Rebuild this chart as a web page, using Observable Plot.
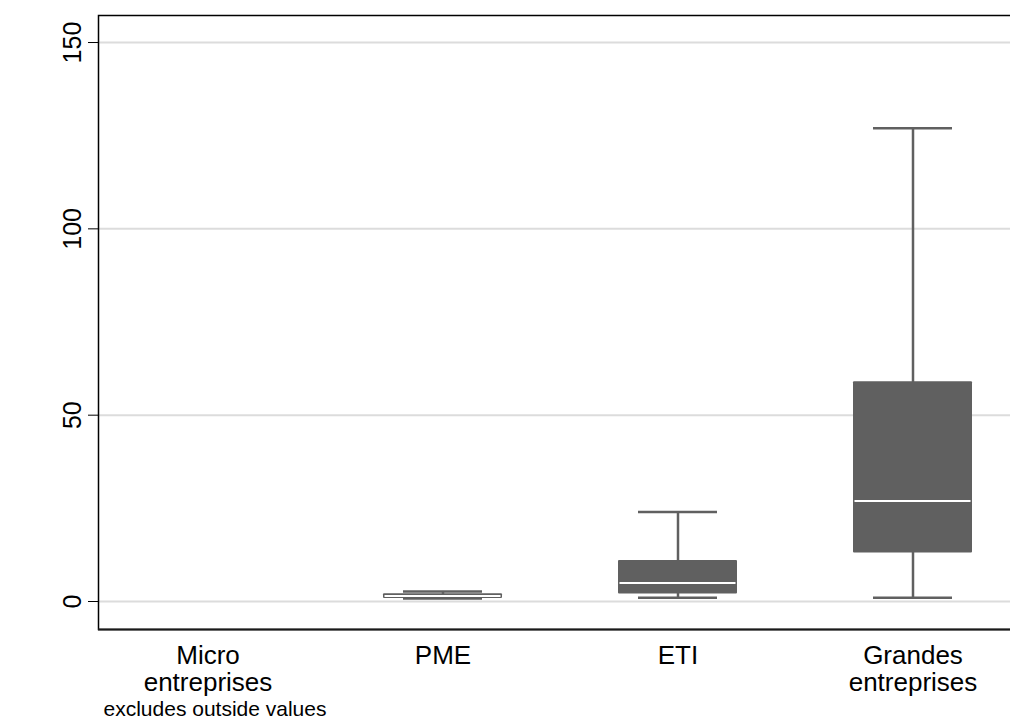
<!DOCTYPE html>
<html>
<head>
<meta charset="utf-8">
<script src="https://cdn.jsdelivr.net/npm/d3@7"></script>
<script src="https://cdn.jsdelivr.net/npm/@observablehq/plot@0.6"></script>
<style>
  html, body { margin: 0; padding: 0; background: #fff; }
  #chart svg { display: block; }
</style>
</head>
<body>
<div id="chart"></div>
<script>
// Data
const categories = ["Micro\nentreprises", "PME", "ETI", "Grandes\nentreprises"];
const lowerWhisker = [null, 0.8, 1, 1];
const q1 = [null, 0.8, 2, 13];
const median = [null, 1.5, 5, 27];
const q3 = [null, 2.1, 11, 59];
const upperWhisker = [null, 2.7, 24, 127];
const yTicks = [0, 50, 100, 150];
const note = "excludes outside values";

const rows = categories.map((c, i) => ({
  cat: c, lo: lowerWhisker[i], q1: q1[i], med: median[i], q3: q3[i], hi: upperWhisker[i]
})).filter(d => d.med != null);

const gray = "#606060";
const font = "'Liberation Sans', Arial, sans-serif";

const chart = Plot.plot({
  width: 1010,
  height: 722,
  marginLeft: 98,
  marginRight: -4,
  marginTop: 15,
  marginBottom: 93,
  style: { fontFamily: font, background: "#fff", color: "#000" },
  x: { type: "band", domain: categories, range: [90, 1030], padding: 0 },
  y: { domain: [-7.51, 157.25], label: null },
  marks: [
    Plot.ruleY(yTicks, { stroke: "#dcdcdc", strokeWidth: 2 }),
    // whiskers
    Plot.ruleX(rows, { x: "cat", y1: "lo", y2: "hi", stroke: gray, strokeWidth: 2.5 }),
    Plot.tickY(rows, { x: "cat", y: "hi", stroke: gray, strokeWidth: 2.5, inset: 78 }),
    Plot.tickY(rows, { x: "cat", y: "lo", stroke: gray, strokeWidth: 2.5, inset: 78 }),
    // boxes
    Plot.barY(rows, { x: "cat", y1: "q1", y2: "q3", fill: gray, insetLeft: 58, insetRight: 58, rx: 1 }),
    // medians
    Plot.tickY(rows, { x: "cat", y: "med", stroke: "#fff", strokeWidth: 2, inset: 59.5 }),
    Plot.frame({ stroke: "#000", strokeWidth: 1.5 }),
    Plot.ruleY([-7.51], { stroke: "#1a1a1a", strokeWidth: 2.2 }),
    Plot.axisY(yTicks, {
      anchor: "left", tickSize: 10, tickPadding: 8, tickRotate: -90,
      fontSize: 25, label: null, stroke: "#000"
    }),
    Plot.axisX({
      anchor: "bottom", tickSize: 0, tickPadding: 15, fontSize: 26,
      lineHeight: 1.05, label: null
    }),
    Plot.text([note], {
      frameAnchor: "bottom-left", dx: 5, dy: 80, fontSize: 21,
      textAnchor: "start", lineAnchor: "middle", fill: "#000"
    })
  ]
});

document.getElementById("chart").appendChild(chart);
</script>
</body>
</html>
